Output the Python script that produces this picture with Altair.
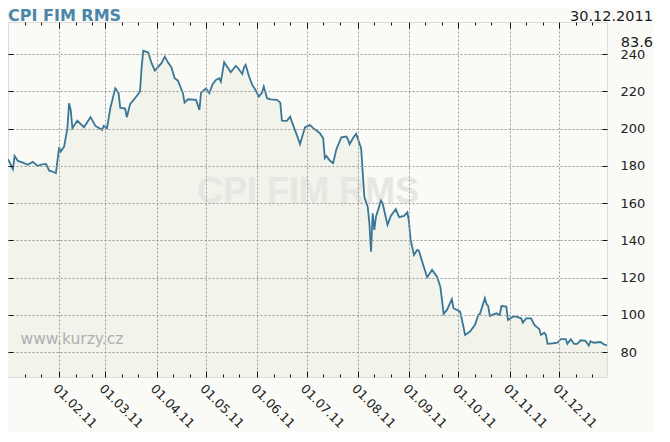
import altair as alt
import pandas as pd

# ---- data ----
dates = [
    "2011-01-01", "2011-01-04", "2011-01-05", "2011-01-07", "2011-01-10", "2011-01-13",
    "2011-01-16", "2011-01-19", "2011-01-21", "2011-01-24", "2011-01-26", "2011-01-28",
    "2011-01-30", "2011-01-31", "2011-02-01", "2011-02-02", "2011-02-04", "2011-02-06",
    "2011-02-07", "2011-02-08", "2011-02-09", "2011-02-12", "2011-02-16", "2011-02-20",
    "2011-02-23", "2011-02-27", "2011-02-28", "2011-03-02", "2011-03-04", "2011-03-07",
    "2011-03-09", "2011-03-10", "2011-03-13", "2011-03-14", "2011-03-16", "2011-03-20",
    "2011-03-22", "2011-03-23", "2011-03-24", "2011-03-27", "2011-03-29", "2011-03-31",
    "2011-04-04", "2011-04-06", "2011-04-08", "2011-04-10", "2011-04-12", "2011-04-14",
    "2011-04-17", "2011-04-18", "2011-04-20", "2011-04-25", "2011-04-27", "2011-04-28",
    "2011-05-01", "2011-05-03", "2011-05-05", "2011-05-07", "2011-05-09", "2011-05-10",
    "2011-05-12", "2011-05-16", "2011-05-19", "2011-05-20", "2011-05-23", "2011-05-24",
    "2011-05-25", "2011-05-27", "2011-05-29", "2011-05-31", "2011-06-02", "2011-06-04",
    "2011-06-05", "2011-06-07", "2011-06-09", "2011-06-13", "2011-06-15", "2011-06-16",
    "2011-06-19", "2011-06-21", "2011-06-22", "2011-06-25", "2011-06-27", "2011-06-28",
    "2011-06-30", "2011-07-03", "2011-07-05", "2011-07-09", "2011-07-11", "2011-07-12",
    "2011-07-13", "2011-07-15", "2011-07-17", "2011-07-19", "2011-07-22", "2011-07-25",
    "2011-07-26", "2011-07-27", "2011-07-29", "2011-07-31", "2011-08-03", "2011-08-04",
    "2011-08-05", "2011-08-07", "2011-08-08", "2011-08-09", "2011-08-10", "2011-08-11",
    "2011-08-12", "2011-08-15", "2011-08-16", "2011-08-19", "2011-08-21", "2011-08-24",
    "2011-08-26", "2011-08-29", "2011-08-31", "2011-09-01", "2011-09-02", "2011-09-04",
    "2011-09-06", "2011-09-07", "2011-09-09", "2011-09-12", "2011-09-15", "2011-09-18",
    "2011-09-20", "2011-09-21", "2011-09-22", "2011-09-24", "2011-09-27", "2011-09-28",
    "2011-10-02", "2011-10-04", "2011-10-05", "2011-10-08", "2011-10-11", "2011-10-13",
    "2011-10-14", "2011-10-17", "2011-10-18", "2011-10-19", "2011-10-20", "2011-10-24",
    "2011-10-26", "2011-10-27", "2011-10-30", "2011-10-31", "2011-11-03", "2011-11-05",
    "2011-11-08", "2011-11-09", "2011-11-11", "2011-11-14", "2011-11-16", "2011-11-19",
    "2011-11-20", "2011-11-22", "2011-11-23", "2011-11-24", "2011-11-27", "2011-11-30",
    "2011-12-02", "2011-12-05", "2011-12-06", "2011-12-08", "2011-12-10", "2011-12-12",
    "2011-12-14", "2011-12-17", "2011-12-19", "2011-12-20", "2011-12-22", "2011-12-26",
    "2011-12-28", "2011-12-30",
]
values = [
    183.6, 178.3, 185.4, 182.7, 181.8, 180.6,
    182.2, 180.0, 180.7, 181.1, 177.5, 177.0,
    176.1, 183.2, 190.1, 187.7, 190.4, 200.3,
    213.7, 210.1, 200.3, 204.3, 200.8, 206.2,
    201.5, 199.4, 201.5, 200.3, 211.0, 221.7,
    219.1, 211.3, 210.8, 206.2, 213.2, 217.6,
    220.0, 233.3, 241.9, 240.9, 235.2, 231.2,
    235.2, 238.7, 235.5, 233.0, 227.1, 225.8,
    219.1, 214.0, 215.8, 215.5, 210.1, 219.4,
    221.7, 219.1, 223.9, 226.2, 227.1, 225.3,
    235.7, 230.3, 233.7, 233.0, 229.4, 233.0,
    234.3, 228.3, 223.5, 220.8, 217.2, 219.4,
    222.6, 216.4, 215.8, 215.5, 214.0, 204.3,
    204.2, 206.5, 203.8, 196.7, 191.7, 194.9,
    200.8, 202.0, 200.3, 197.6, 194.9, 184.2,
    185.4, 182.9, 181.5, 189.0, 195.4, 195.8,
    194.4, 191.7, 194.9, 197.2, 189.5, 176.1,
    163.2, 158.2, 149.3, 134.0, 154.6, 145.7,
    152.8, 161.4, 160.0, 148.4, 153.2, 156.8,
    152.5, 153.2, 155.2, 150.0, 140.3, 132.2,
    134.9, 134.5, 128.6, 120.3, 124.2, 120.6,
    115.2, 108.1, 100.6, 102.7, 108.5, 103.6,
    101.8, 93.7, 89.3, 91.1, 94.7, 100.0,
    100.6, 109.0, 105.9, 104.8, 99.5, 100.9,
    100.0, 104.8, 104.5, 97.3, 99.1, 99.1,
    98.2, 95.9, 98.2, 98.2, 94.7, 92.4,
    89.3, 90.5, 89.3, 84.5, 84.8, 85.1,
    87.0, 87.0, 84.5, 87.0, 84.5, 84.5,
    86.4, 86.1, 83.6, 85.9, 85.1, 85.5,
    84.3, 83.6,
]

y_ticks = [80, 100, 120, 140, 160, 180, 200, 220, 240]
y_domain = [66.7, 257.3]
x_domain = [(2011, 1, 1), (2011, 12, 30)]
month_starts = [
    "2011-02-01", "2011-03-01", "2011-04-01", "2011-05-01", "2011-06-01", "2011-07-01",
    "2011-08-01", "2011-09-01", "2011-10-01", "2011-11-01", "2011-12-01",
]
minor_months = [1, 2, 3, 4, 5, 6, 7, 8, 9, 10, 11, 12]
minor_days = [11, 21]

title_text = "CPI FIM RMS"
date_text = "30.12.2011"
last_text = "83.6"
site_text = "www.kurzy.cz"

# ---- styles ----
BG = "#fafaf6"
FILL = "#f2f3ea"
LINE = "#3a7797"
TITLE_C = "#4a86aa"
GRID_C = "#999999"
TICK_C = "#111111"

df = pd.DataFrame({"date": dates, "value": values})


def utc_dt(y, m, d):
    return alt.DateTime(year=y, month=m, date=d, utc=True)


def iso_dt(s):
    y, m, d = (int(p) for p in s.split("-"))
    return utc_dt(y, m, d)


major_values = [iso_dt(s) for s in month_starts]
minor_values = [utc_dt(2011, m, d) for m in minor_months for d in minor_days]

x_scale = alt.Scale(type="utc", domain=[utc_dt(*x_domain[0]), utc_dt(*x_domain[1])])
y_scale = alt.Scale(domain=y_domain, zero=False, nice=False)

GRID_STYLE = dict(grid=True, gridColor=GRID_C, gridDash=[2, 2], gridWidth=1, gridOpacity=1)


def tick_axis(orient, values, size, grid=False):
    extra = GRID_STYLE if grid else {"grid": False}
    return alt.Axis(orient=orient, values=values, labels=False, domain=False,
                    tickColor=TICK_C, tickWidth=1, tickSize=size, offset=-size,
                    zindex=1, title=None, **extra)


# area layer carries the top major ticks + vertical grid, and left ticks + horizontal grid
area = alt.Chart(df).mark_area(color=FILL, clip=True).encode(
    x=alt.X("date:T", scale=x_scale, axis=tick_axis("top", major_values, 6, grid=True)),
    y=alt.Y("value:Q", scale=y_scale, axis=tick_axis("left", y_ticks, 5, grid=True)),
)

watermark = alt.Chart(pd.DataFrame({"t": [title_text]})).mark_text(
    font="Liberation Sans", fontWeight="bold", fontSize=36, color="#e6e6e2",
    align="center", baseline="alphabetic",
).encode(text="t:N", x=alt.value(300), y=alt.value(181))

minor_top = alt.Chart(pd.DataFrame({"m": month_starts})).mark_rule(opacity=0).encode(
    x=alt.X("m:T", scale=x_scale, axis=tick_axis("top", minor_values, 3)))

minor_bottom = alt.Chart(pd.DataFrame({"m": month_starts})).mark_rule(opacity=0).encode(
    x=alt.X("m:T", scale=x_scale, axis=tick_axis("bottom", minor_values, 3)))

line = alt.Chart(df).mark_line(color=LINE, strokeWidth=1.8, clip=True).encode(
    x=alt.X("date:T", scale=x_scale, axis=alt.Axis(
        orient="bottom", values=major_values, domain=False, grid=False,
        tickColor=TICK_C, tickWidth=1, tickSize=6, offset=-6,
        labelExpr="utcFormat(datum.value, '%d.%m.%y')",
        labelAngle=45, labelAlign="left", labelBaseline="top", labelPadding=5,
        labelFontSize=12.5, labelColor="#222", labelOverlap=False, labelBound=False,
        labelFlush=False, zindex=1, title=None)),
    y=alt.Y("value:Q", scale=y_scale, axis=alt.Axis(
        orient="right", values=y_ticks, domain=False, grid=False,
        tickColor=TICK_C, tickWidth=1, tickSize=5, offset=-5,
        labelPadding=13, labelFontSize=13, labelColor="#222", labelAlign="left",
        labelBaseline="middle", zindex=1, title=None)),
)

site = alt.Chart(pd.DataFrame({"t": [site_text]})).mark_text(
    font="DejaVu Sans", fontSize=15.5, color="#b0b0b0", align="left", baseline="alphabetic",
).encode(text="t:N", x=alt.value(12.5), y=alt.value(322))

title = alt.Chart(pd.DataFrame({"t": [title_text]})).mark_text(
    font="DejaVu Sans", fontWeight="bold", fontSize=16, color=TITLE_C,
    align="left", baseline="alphabetic",
).encode(text="t:N", x=alt.value(0), y=alt.value(-1.5))

date_lbl = alt.Chart(pd.DataFrame({"t": [date_text]})).mark_text(
    font="DejaVu Sans", fontSize=14.5, color="#1a1a1a", align="right", baseline="alphabetic",
).encode(text="t:N", x=alt.value(645), y=alt.value(-1.5))

last_lbl = alt.Chart(pd.DataFrame({"t": [last_text]})).mark_text(
    font="DejaVu Sans", fontSize=14.5, color="#1a1a1a", align="right", baseline="alphabetic",
).encode(text="t:N", x=alt.value(645), y=alt.value(25.2))

chart = alt.layer(
    area, watermark, minor_top, minor_bottom, line, site, title, date_lbl, last_lbl
).resolve_axis(
    x="independent", y="independent"
).properties(
    width=599, height=355,
    autosize=alt.AutoSizeParams(type="none"),
    padding={"left": 0, "top": 14, "right": 47, "bottom": 55},
    background=BG,
).configure_view(strokeWidth=0).configure(font="DejaVu Sans")

chart.save("out.html", embed_options={"renderer": "svg", "actions": False})
